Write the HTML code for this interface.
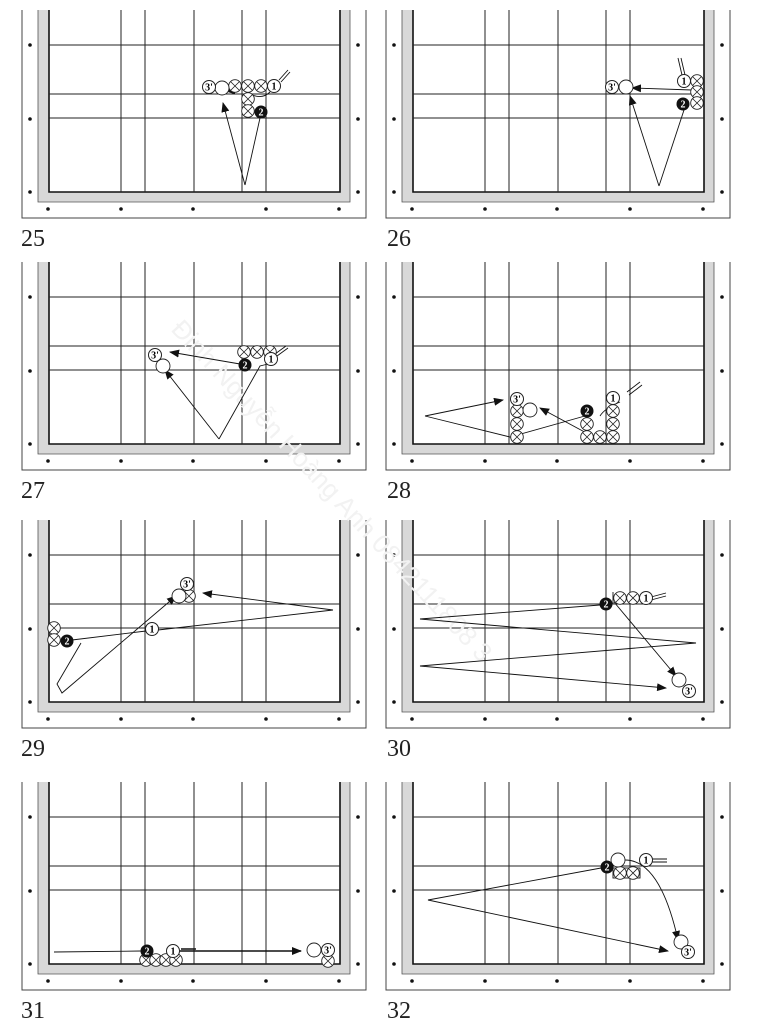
<!DOCTYPE html>
<html><head><meta charset="utf-8"><style>
html,body{margin:0;padding:0;background:#fff;}
svg{display:block;}
.n{font-family:"Liberation Serif",serif;font-weight:bold;font-size:10px;text-anchor:middle;}
.lbl{font-family:"Liberation Serif",serif;font-size:24px;fill:#222;}
</style></head><body>
<svg width="764" height="1026" viewBox="0 0 764 1026" xmlns="http://www.w3.org/2000/svg">
<defs>
<marker id="ah" markerWidth="10" markerHeight="8" refX="9" refY="4" orient="auto" markerUnits="userSpaceOnUse"><path d="M0,0 L10,4 L0,8 Z" fill="#111"/></marker>
<g id="fr">
<path d="M22,10 V218 H366 V10" fill="none" stroke="#444" stroke-width="1"/>
<path d="M38,10 V202 H350 V10 Z" fill="#d8d8d8" stroke="none"/>
<path d="M38,10 V202 H350 V10" fill="none" stroke="#555" stroke-width="0.8"/>
<path d="M49,10 V192 H340 V10 Z" fill="#fff" stroke="none"/>
<path d="M49,10 V192 H340 V10" fill="none" stroke="#111" stroke-width="1.6"/>
<g stroke="#222" stroke-width="1">
<line x1="121" y1="10" x2="121" y2="192"/><line x1="145" y1="10" x2="145" y2="192"/>
<line x1="194" y1="10" x2="194" y2="192"/><line x1="242" y1="10" x2="242" y2="192"/>
<line x1="266" y1="10" x2="266" y2="192"/>
<line x1="49" y1="45" x2="340" y2="45"/><line x1="49" y1="94" x2="340" y2="94"/><line x1="49" y1="118" x2="340" y2="118"/>
</g>
<g fill="#111">
<circle cx="30" cy="45" r="1.8"/><circle cx="30" cy="119" r="1.8"/><circle cx="30" cy="192" r="1.8"/>
<circle cx="358" cy="45" r="1.8"/><circle cx="358" cy="119" r="1.8"/><circle cx="358" cy="192" r="1.8"/>
<circle cx="48" cy="209" r="1.8"/><circle cx="121" cy="209" r="1.8"/><circle cx="193" cy="209" r="1.8"/><circle cx="266" cy="209" r="1.8"/><circle cx="339" cy="209" r="1.8"/>
</g>
</g>
<g id="xc"><circle r="6.3" fill="#fff" stroke="#222" stroke-width="0.9"/><path d="M-4.4,-4.4 L4.4,4.4 M-4.4,4.4 L4.4,-4.4" stroke="#222" stroke-width="0.8"/></g>
<g id="oc"><circle r="7" fill="#fff" stroke="#222" stroke-width="0.9"/></g>
<g id="nc"><circle r="6.5" fill="#fff" stroke="#222" stroke-width="1"/></g>
<g id="fc"><circle r="6.5" fill="#111"/></g>
</defs>

<use href="#fr" x="0" y="0"/><use href="#fr" x="364" y="0"/>
<use href="#fr" x="0" y="252"/><use href="#fr" x="364" y="252"/>
<use href="#fr" x="0" y="510"/><use href="#fr" x="364" y="510"/>
<use href="#fr" x="0" y="772"/><use href="#fr" x="364" y="772"/>

<text class="lbl" x="21" y="246">25</text><text class="lbl" x="387" y="246">26</text>
<text class="lbl" x="21" y="498">27</text><text class="lbl" x="387" y="498">28</text>
<text class="lbl" x="21" y="756">29</text><text class="lbl" x="387" y="756">30</text>
<text class="lbl" x="21" y="1018">31</text><text class="lbl" x="387" y="1018">32</text>

<text x="170" y="330" transform="rotate(47 170 330)" font-family="Liberation Sans,sans-serif" font-size="26" fill="#f2f2f2">Đinh Nguyễn Hoàng Anh 0842111808 3</text>

<g fill="none" stroke="#111" stroke-width="0.9">
<!-- 25 -->
<path d="M245,185 L223,103" marker-end="url(#ah)"/><path d="M245,185 L260,118"/>
<path d="M270,92 Q262,100 250,94"/><path d="M240,90 L226,91" marker-end="url(#ah)"/>
<path d="M279,80 L288,70 M281,82 L290,72"/>
<!-- 26 -->
<path d="M659,186 L630,96" marker-end="url(#ah)"/><path d="M659,186 L684,110"/>
<path d="M692,90 L632,88" marker-end="url(#ah)"/>
<path d="M682,75 L678,58 M685,75 L681,58"/>
<!-- 27 -->
<path d="M219,439 L165,370" marker-end="url(#ah)"/><path d="M219,439 L260,366 L268,364"/>
<path d="M240,364 L170,352" marker-end="url(#ah)"/>
<path d="M275,354 L286,346 M277,356 L288,348"/>
<!-- 28 -->
<path d="M425,416 L503,400" marker-end="url(#ah)"/><path d="M425,416 L510,437 L592,414"/>
<path d="M592,436 L540,408" marker-end="url(#ah)"/>
<path d="M620,402 Q605,408 600,416"/>
<path d="M627,392 L640,382 M629,395 L642,385"/>
<!-- 29 -->
<path d="M333,610 L203,593" marker-end="url(#ah)"/><path d="M333,610 L158,630"/>
<path d="M72,640 L146,631"/>
<path d="M81,643 L57,684 L62,693 L176,596" marker-end="url(#ah)"/>
<!-- 30 -->
<path d="M600,605 L420,619 L696,643 L420,666 L666,688" marker-end="url(#ah)"/>
<path d="M614,602 L676,676" marker-end="url(#ah)"/>
<path d="M613,592 L613,604"/>
<path d="M651,597 L666,593 M651,600 L666,596"/>
<!-- 31 -->
<path d="M54,952 L141,951"/><path d="M179,951 L301,951" marker-end="url(#ah)" stroke-width="1.4"/>
<path d="M181,949 L196,949" stroke-width="1.5"/>
<!-- 32 -->
<path d="M601,868 L428,900 L668,951" marker-end="url(#ah)"/>
<path d="M625,860 Q660,860 678,940" marker-end="url(#ah)"/>
<path d="M652,859 L667,859 M652,862 L667,862"/>
<rect x="613" y="868" width="27" height="10"/>
</g>

<!-- markers 25 -->
<use href="#xc" x="235" y="86"/><use href="#xc" x="248" y="86"/><use href="#xc" x="261" y="86"/>
<use href="#xc" x="248" y="99"/><use href="#xc" x="248" y="111"/>
<use href="#oc" x="222" y="88"/>
<use href="#nc" x="209" y="87"/><text class="n" x="209" y="90.5">3'</text>
<use href="#nc" x="274" y="86"/><text class="n" x="274" y="89.5">1</text>
<use href="#fc" x="261" y="112"/><text class="n" x="261" y="115.5" fill="#fff">2</text>
<!-- 26 -->
<use href="#xc" x="697" y="81"/><use href="#xc" x="697" y="92"/><use href="#xc" x="697" y="103"/>
<use href="#oc" x="626" y="87"/>
<use href="#nc" x="612" y="87"/><text class="n" x="612" y="90.5">3'</text>
<use href="#nc" x="684" y="81"/><text class="n" x="684" y="84.5">1</text>
<use href="#fc" x="683" y="104"/><text class="n" x="683" y="107.5" fill="#fff">2</text>
<!-- 27 -->
<use href="#xc" x="244" y="352"/><use href="#xc" x="257" y="352"/><use href="#xc" x="270" y="352"/>
<use href="#oc" x="163" y="366"/>
<use href="#nc" x="155" y="355"/><text class="n" x="155" y="358.5">3'</text>
<use href="#nc" x="271" y="359"/><text class="n" x="271" y="362.5">1</text>
<use href="#fc" x="245" y="365"/><text class="n" x="245" y="368.5" fill="#fff">2</text>
<!-- 28 -->
<use href="#xc" x="517" y="411"/><use href="#xc" x="517" y="424"/><use href="#xc" x="517" y="437"/>
<use href="#xc" x="587" y="424"/><use href="#xc" x="587" y="437"/><use href="#xc" x="600" y="437"/><use href="#xc" x="613" y="437"/>
<use href="#xc" x="613" y="411"/><use href="#xc" x="613" y="424"/>
<use href="#oc" x="530" y="410"/>
<use href="#nc" x="517" y="399"/><text class="n" x="517" y="402.5">3'</text>
<use href="#nc" x="613" y="398"/><text class="n" x="613" y="401.5">1</text>
<use href="#fc" x="587" y="411"/><text class="n" x="587" y="414.5" fill="#fff">2</text>
<!-- 29 -->
<use href="#xc" x="54" y="628"/><use href="#xc" x="54" y="640"/><use href="#xc" x="189" y="596"/>
<use href="#oc" x="179" y="596"/>
<use href="#nc" x="187" y="584"/><text class="n" x="187" y="587.5">3'</text>
<use href="#nc" x="152" y="629"/><text class="n" x="152" y="632.5">1</text>
<use href="#fc" x="67" y="641"/><text class="n" x="67" y="644.5" fill="#fff">2</text>
<!-- 30 -->
<use href="#xc" x="620" y="598"/><use href="#xc" x="633" y="598"/>
<use href="#oc" x="679" y="680"/>
<use href="#nc" x="689" y="691"/><text class="n" x="689" y="694.5">3'</text>
<use href="#nc" x="646" y="598"/><text class="n" x="646" y="601.5">1</text>
<use href="#fc" x="606" y="604"/><text class="n" x="606" y="607.5" fill="#fff">2</text>
<!-- 31 -->
<use href="#xc" x="146" y="960"/><use href="#xc" x="156" y="960"/><use href="#xc" x="166" y="960"/><use href="#xc" x="176" y="960"/>
<use href="#xc" x="328" y="961"/>
<use href="#oc" x="314" y="950"/>
<use href="#nc" x="328" y="950"/><text class="n" x="328" y="953.5">3'</text>
<use href="#nc" x="173" y="951"/><text class="n" x="173" y="954.5">1</text>
<use href="#fc" x="147" y="951"/><text class="n" x="147" y="954.5" fill="#fff">2</text>
<!-- 32 -->
<use href="#xc" x="620" y="873"/><use href="#xc" x="633" y="873"/>
<use href="#oc" x="618" y="860"/><use href="#oc" x="681" y="942"/>
<use href="#nc" x="688" y="952"/><text class="n" x="688" y="955.5">3'</text>
<use href="#nc" x="646" y="860"/><text class="n" x="646" y="863.5">1</text>
<use href="#fc" x="607" y="867"/><text class="n" x="607" y="870.5" fill="#fff">2</text>
</svg>
</body></html>
